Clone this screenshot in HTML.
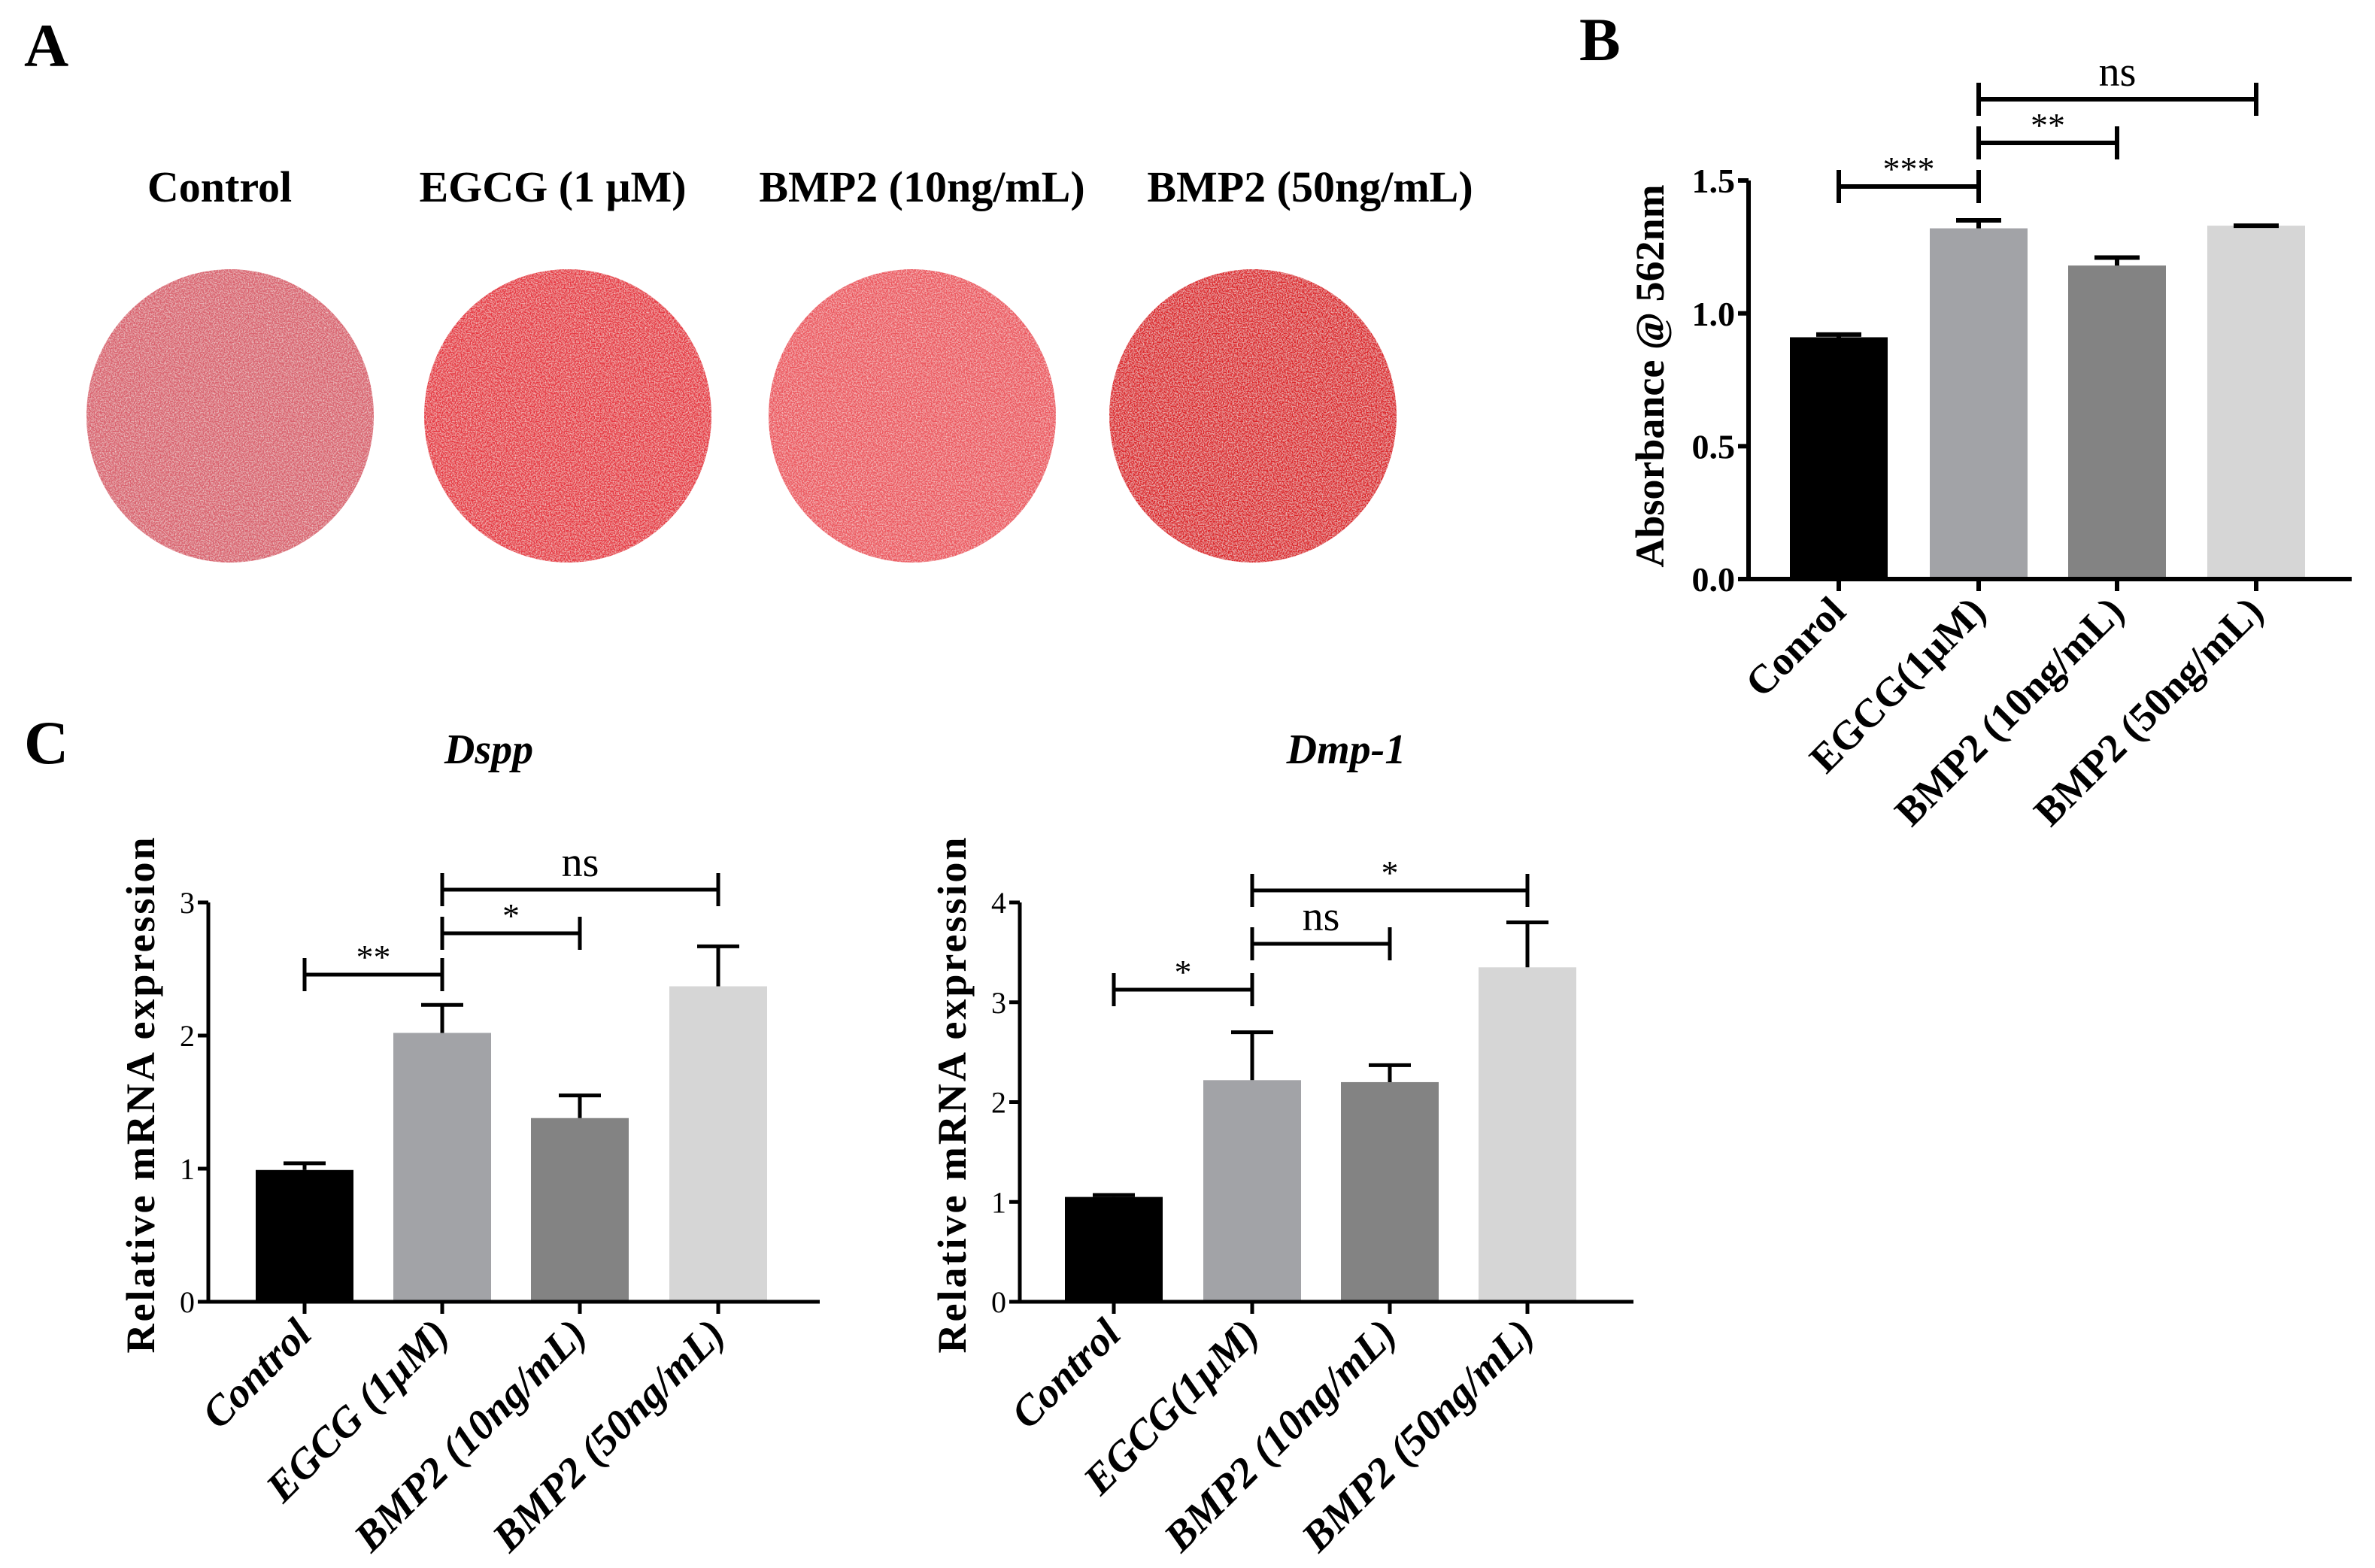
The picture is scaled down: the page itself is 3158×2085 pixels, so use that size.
<!DOCTYPE html>
<html><head><meta charset="utf-8"><style>
body{margin:0;background:#fff}
svg{display:block}
text{font-family:"Liberation Serif",serif}
</style></head><body>
<svg id="fig" width="3158" height="2085" viewBox="0 0 3158 2085" xmlns="http://www.w3.org/2000/svg">
<defs>
<filter id="grain" x="0" y="0" width="100%" height="100%">
<feTurbulence type="fractalNoise" baseFrequency="0.6" numOctaves="2" seed="3" result="n"/>
<feColorMatrix in="n" type="matrix" values="0 0 0 0 1  0 0 0 0 1  0 0 0 0 1  0 0 0 -1.2 0.72" result="w"/>
<feComposite in="w" in2="SourceGraphic" operator="in" result="wm"/>
<feBlend in="wm" in2="SourceGraphic" mode="screen"/>
</filter>
</defs>
<text x="32" y="88" font-size="82" font-weight="bold">A</text>
<text x="2100" y="80" font-size="82" font-weight="bold">B</text>
<text x="32" y="1015" font-size="82" font-weight="bold">C</text>
<g id="panelA"></g>
<g id="panelB"></g>
<g id="panelC1"></g>
<g id="panelC2"></g>
</svg>
<script>
const NS="http://www.w3.org/2000/svg";
const dishLabels=["Control","EGCG (1 μM)","BMP2 (10ng/mL)","BMP2 (50ng/mL)"];
const dishColors=["#d9616d","#e6363f","#ec545c","#dc2228"];
const categoriesB=["Conrol","EGCG(1μM)","BMP2 (10ng/mL)","BMP2 (50ng/mL)"];
const valuesB=[0.91,1.32,1.18,1.33];
const errB=[0.01,0.03,0.03,0.0];
const ticksB=["0.0","0.5","1.0","1.5"];
const tickValsB=[0,0.5,1.0,1.5];
const categoriesC1=["Control","EGCG (1μM)","BMP2 (10ng/mL)","BMP2 (50ng/mL)"];
const valuesC1=[0.99,2.02,1.38,2.37];
const errC1=[0.05,0.21,0.17,0.30];
const ticksC1=["0","1","2","3"];
const tickValsC1=[0,1,2,3];
const categoriesC2=["Control","EGCG(1μM)","BMP2 (10ng/mL)","BMP2 (50ng/mL)"];
const valuesC2=[1.05,2.22,2.20,3.35];
const errC2=[0.02,0.48,0.17,0.45];
const ticksC2=["0","1","2","3","4"];
const tickValsC2=[0,1,2,3,4];
const barColors=["#000000","#a2a3a7","#838383","#d6d6d6"];

function el(tag,attrs,parent){const e=document.createElementNS(NS,tag);for(const k in attrs)e.setAttribute(k,attrs[k]);parent.appendChild(e);return e;}

const gA=document.getElementById('panelA');
const dishX=[306,755,1213,1666];
const labX=[292,735,1226,1742];
dishLabels.forEach((t,i)=>{
  const tx=el('text',{x:labX[i],y:268,'font-size':58,'font-weight':'bold','text-anchor':'middle'},gA);
  tx.textContent=t;
  
  
  const c=el('ellipse',{cx:dishX[i],cy:553,rx:191,ry:195,fill:dishColors[i],filter:'url(#grain)'},gA);
  
  
});

function chart(g,o){
  const y=v=>o.y0-(v-o.vmin)/(o.vmax-o.vmin)*(o.y0-o.y1);
  const lw=o.lw;
  o.values.forEach((v,i)=>{
    const cx=o.centers[i];
    const r=el('rect',{x:cx-o.bw/2,y:y(v),width:o.bw,height:o.y0-y(v),fill:barColors[i]},g);
    
    
    const top=v+o.err[i];
    const d=o.err[i]>0.005?`M${cx} ${y(v)} V${y(top)} M${cx-o.capw} ${y(top)} H${cx+o.capw}`:`M${cx-o.capw} ${y(top)} H${cx+o.capw}`;
    const e=el('path',{d:d,stroke:'#000','stroke-width':lw,fill:'none'},g);
    
    
  });
  const ax=el('path',{d:`M${o.x0} ${y(o.vmax)} V${o.y0} H${o.xEnd}`,stroke:'#000','stroke-width':lw,fill:'none'},g);
  
  
  o.tickVals.forEach((tv,i)=>{
    el('path',{d:`M${o.x0-14} ${y(tv)} H${o.x0}`,stroke:'#000','stroke-width':lw},g);
    const t=el('text',{x:o.x0-18,y:y(tv)+o.tfs*0.35,'font-size':o.tfs,'font-weight':o.tbold?'bold':'normal','text-anchor':'end'},g);
    t.textContent=o.ticks[i];
    
    
  });
  o.centers.forEach((cx,i)=>{
    el('path',{d:`M${cx} ${o.y0} V${o.y0+16}`,stroke:'#000','stroke-width':lw},g);
    const t=el('text',{x:cx+12,y:o.y0+46,'font-size':o.xfs,'font-weight':'bold','font-style':o.italic?'italic':'normal','text-anchor':'end',transform:`rotate(-45 ${cx+12} ${o.y0+46})`},g);
    t.textContent=o.cats[i];
    
    
  });
  const yt=el('text',{x:o.ytx,y:o.yty,'font-size':o.ytfs,'font-weight':'bold','text-anchor':'middle','letter-spacing':o.ls||0,transform:`rotate(-90 ${o.ytx} ${o.yty})`},g);
  yt.textContent=o.ytitle;
  
  
  o.brackets.forEach(b=>{
    const x1=o.centers[b[0]],x2=o.centers[b[1]],by=b[2];
    const p=el('path',{d:`M${x1} ${by-22} V${by+22} M${x1} ${by} H${x2} M${x2} ${by-22} V${by+22}`,stroke:'#000','stroke-width':lw,fill:'none'},g);
    
    
    const t=el('text',{x:(x1+x2)/2,y:by-(b[3]==='ns'?18:8),'font-size':b[3]==='ns'?56:46,'text-anchor':'middle'},g);
    t.textContent=b[3];
    
    
  });
  if(o.title){
    const t=el('text',{x:o.titleX,y:o.titleY,'font-size':56,'font-weight':'bold','font-style':'italic','text-anchor':'middle'},g);
    t.textContent=o.title;
    
    
  }
}

chart(document.getElementById('panelB'),{values:valuesB,err:errB,cats:categoriesB,ticks:ticksB,tickVals:tickValsB,
 vmin:0,vmax:1.5,y0:770,y1:240,x0:2325,xEnd:3127,centers:[2445,2631,2815,3000],bw:130,capw:30,lw:6,tfs:46,tbold:true,xfs:54,italic:false,
 ytx:2212,yty:500,ytfs:54,ytitle:"Absorbance @ 562nm",
 brackets:[[0,1,248,'***'],[1,2,190,'**'],[1,3,132,'ns']]});
chart(document.getElementById('panelC1'),{values:valuesC1,err:errC1,cats:categoriesC1,ticks:ticksC1,tickVals:tickValsC1,
 vmin:0,vmax:3,y0:1731,y1:1200,x0:277,xEnd:1090,centers:[405,588,771,955],bw:130,capw:28,lw:5,tfs:40,tbold:false,xfs:56,italic:true,
 ytx:205,yty:1455,ytfs:54,ls:3,ytitle:"Relative mRNA expression",title:"Dspp",titleX:650,titleY:1015,
 brackets:[[0,1,1296,'**'],[1,2,1241,'*'],[1,3,1183,'ns']]});
chart(document.getElementById('panelC2'),{values:valuesC2,err:errC2,cats:categoriesC2,ticks:ticksC2,tickVals:tickValsC2,
 vmin:0,vmax:4,y0:1731,y1:1200,x0:1356,xEnd:2172,centers:[1481,1665,1848,2031],bw:130,capw:28,lw:5,tfs:40,tbold:false,xfs:56,italic:true,
 ytx:1284,yty:1455,ytfs:54,ls:3,ytitle:"Relative mRNA expression",title:"Dmp-1",titleX:1790,titleY:1015,
 brackets:[[0,1,1316,'*'],[1,2,1255,'ns'],[1,3,1184,'*']]});
</script>
</body></html>
